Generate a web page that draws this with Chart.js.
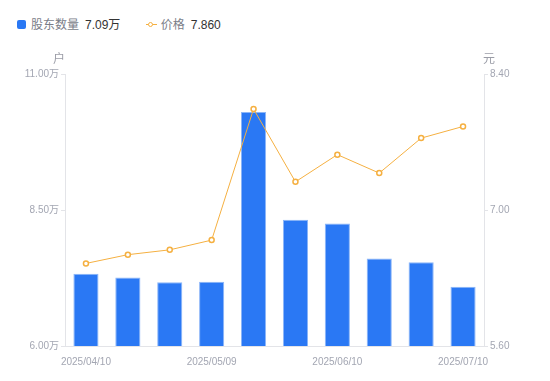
<!DOCTYPE html>
<html>
<head>
<meta charset="utf-8">
<script src="https://cdn.jsdelivr.net/npm/chart.js@4/dist/chart.umd.min.js"></script>
<style>
  html, body { margin: 0; padding: 0; background: #fff; }
  body { width: 550px; height: 381px; position: relative; overflow: hidden;
         font-family: "Liberation Sans", "Noto Sans CJK SC", sans-serif; }
  #wrap { position: absolute; left: 0; top: 0; width: 550px; height: 381px; }
  .legend { position: absolute; top: 15px; left: 17px; font-size: 12px; line-height: 18px; white-space: nowrap; }
  .legend span { vertical-align: middle; }
  .sq { display: inline-block; width: 9px; height: 9px; background: #2a78f4; border-radius: 2px; margin-right: 5px; }
  .lbl { color: #7a7d88; }
  .val { color: #333; margin-left: 6px; }
  .ln { display: inline-block; position: relative; width: 11px; height: 9px; margin-left: 22px; margin-right: 4px; }
  .ln:before { content: ""; position: absolute; left: 0; right: 0; top: 4px; height: 1px; background: #f5b041; }
  .ln:after { content: ""; position: absolute; left: 2.5px; top: 1.5px; width: 3px; height: 3px; border: 1.5px solid #f5b041; border-radius: 50%; background: #fff; }
</style>
</head>
<body>
<div class="legend">
  <span class="sq"></span><span class="lbl">股东数量</span><span class="val">7.09万</span>
  <span class="ln"></span><span class="lbl">价格</span><span class="val">7.860</span>
</div>
<div id="wrap"><canvas id="chart"></canvas></div>
<script>
const dates = ['2025/04/10', '2025/04/20', '2025/04/30', '2025/05/09', '2025/05/20',
               '2025/05/31', '2025/06/10', '2025/06/20', '2025/06/30', '2025/07/10'];
// 股东数量, unit 万户
const holders = [7.33, 7.26, 7.17, 7.18, 10.30, 8.32, 8.25, 7.61, 7.54, 7.09];
// 价格, unit 元
const prices = [6.45, 6.54, 6.59, 6.69, 8.04, 7.29, 7.57, 7.38, 7.74, 7.86];
const leftTicks = [6.0, 8.5, 11.0];
const rightTicks = [5.6, 7.0, 8.4];

const tickColor = '#a3a6b2';
const axisColor = '#e3e4e8';

// axis unit titles above the y axes
const unitTitles = {
  id: 'unitTitles',
  afterDraw(chart) {
    const ctx = chart.ctx;
    const l = chart.scales.y, r = chart.scales.y1;
    ctx.save();
    ctx.fillStyle = '#9a9ca6';
    ctx.font = '12px "Noto Sans CJK SC", sans-serif';
    ctx.textAlign = 'center';
    ctx.textBaseline = 'middle';
    ctx.fillText('户', l.right - 6, l.top - 16);
    ctx.fillText('元', r.left + 5, r.top - 16);
    ctx.restore();
  }
};

new Chart(document.getElementById('chart'), {
  data: {
    labels: dates,
    datasets: [
      {
        type: 'line',
        label: '价格',
        data: prices,
        yAxisID: 'y1',
        borderColor: '#f5b041',
        borderWidth: 1,
        pointRadius: 2.5,
        pointBorderWidth: 1.5,
        pointBackgroundColor: '#fff',
        pointBorderColor: '#f5b041',
        tension: 0,
        order: 0
      },
      {
        type: 'bar',
        label: '股东数量',
        data: holders,
        yAxisID: 'y',
        backgroundColor: '#2a78f4',
        borderColor: '#8cb6f8',
        borderWidth: { top: 1, left: 1, right: 1, bottom: 0 },
        barPercentage: 0.6,
        categoryPercentage: 1,
        order: 1
      }
    ]
  },
  options: {
    responsive: true,
    maintainAspectRatio: false,
    animation: false,
    layout: { padding: { top: 74, left: 0, right: 0, bottom: 0 } },
    plugins: { legend: { display: false }, tooltip: { enabled: false } },
    scales: {
      x: {
        offset: true,
        grid: { display: false },
        border: { color: axisColor },
        ticks: {
          autoSkip: false,
          maxRotation: 0,
          color: tickColor,
          font: { size: 10, family: '"Liberation Sans", sans-serif' },
          padding: 2,
          callback: function(v, i) { return i % 3 === 0 ? this.getLabelForValue(v) : ''; }
        },
        afterFit(s) { s.height = 35; }
      },
      y: {
        position: 'left',
        min: 6, max: 11,
        afterBuildTicks(s) { s.ticks = leftTicks.map(v => ({ value: v })); },
        grid: { drawOnChartArea: false, color: axisColor, tickLength: 4 },
        border: { color: axisColor },
        ticks: {
          color: tickColor,
          padding: 2,
          font: { size: 10, family: '"Liberation Sans", "Noto Sans CJK SC", sans-serif' },
          callback: v => v.toFixed(2) + '万'
        },
        afterFit(s) { s.width = 65; }
      },
      y1: {
        position: 'right',
        min: 5.6, max: 8.4,
        afterBuildTicks(s) { s.ticks = rightTicks.map(v => ({ value: v })); },
        grid: { drawOnChartArea: false, color: axisColor, tickLength: 4 },
        border: { color: axisColor },
        ticks: {
          color: tickColor,
          padding: 2,
          font: { size: 10, family: '"Liberation Sans", sans-serif' },
          callback: v => v.toFixed(2)
        },
        afterFit(s) { s.width = 66; }
      }
    }
  },
  plugins: [unitTitles]
});
</script>
</body>
</html>
